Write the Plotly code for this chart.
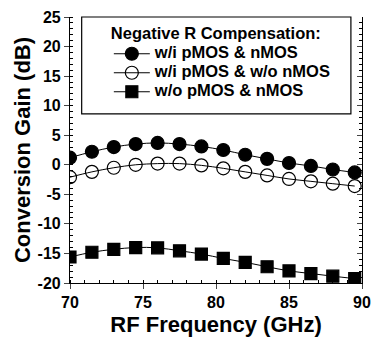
import plotly.graph_objects as go

freq = [70, 71.5, 73, 74.5, 76, 77.5, 79, 80.5, 82, 83.5, 85, 86.5, 88, 89.5]
gain_pn = [1.2, 2.2, 3.0, 3.5, 3.7, 3.5, 3.1, 2.5, 1.7, 1.0, 0.3, -0.2, -0.8, -1.3]
gain_p_only = [-2.1, -1.2, -0.5, 0.0, 0.2, 0.2, -0.1, -0.6, -1.2, -1.8, -2.4, -2.8, -3.2, -3.6]
gain_none = [-15.6, -14.8, -14.3, -14.0, -14.05, -14.55, -15.1, -15.85, -16.5, -17.25, -17.95, -18.4, -18.85, -19.25]

names = ["w/i pMOS &amp; nMOS", "w/i pMOS &amp; w/o nMOS", "w/o pMOS &amp; nMOS"]
legend_title = "Negative R Compensation:"
xticks = [70, 75, 80, 85, 90]
xticklabels = ["70", "75", "80", "85", "90"]
yticks = [-20, -15, -10, -5, 0, 5, 10, 15, 20, 25]
yticklabels = ["-20", "-15", "-10", "-5", "0", "5", "10", "15", "20", "25"]

FONT = "Liberation Sans, Arial, sans-serif"

fig = go.Figure()
series = [
    (gain_pn, "circle", "black", 13),
    (gain_p_only, "circle-open", "black", 13),
    (gain_none, "square", "black", 12),
]
for (ys, sym, col, sz), nm in zip(series, names):
    fig.add_trace(go.Scatter(
        x=freq, y=ys, name="<span style='font-size:16.5px'><b>" + nm + "</b></span>",
        mode="lines+markers",
        line=dict(color="black", width=1, shape="spline"),
        marker=dict(symbol=sym, size=sz, color=col,
                    line=dict(color="black", width=1.2)),
    ))
# empty trace so the right-hand axis is drawn
fig.add_trace(go.Scatter(x=[], y=[], yaxis="y2", showlegend=False, hoverinfo="skip"))

fig.update_layout(
    width=380, height=345,
    margin=dict(l=70, r=9, t=12, b=62),
    paper_bgcolor="white", plot_bgcolor="white",
    font=dict(family=FONT, color="black"),
    showlegend=True,
    legend=dict(
        title=dict(text="<span style='font-size:16.5px'><b>" + legend_title + "</b></span>",
                   font=dict(size=12, family=FONT)),
        font=dict(size=11, family=FONT),
        x=0.133, y=0.975, xanchor="left", yanchor="top",
        bgcolor="rgba(0,0,0,0)", borderwidth=0,
        tracegroupgap=0, itemwidth=36,
    ),
    xaxis=dict(
        range=[70, 90], tickvals=xticks, ticktext=xticklabels,
        ticks="outside", ticklen=5, tickwidth=1.2,
        showline=True, linecolor="black", linewidth=1.2, showgrid=False, zeroline=False,
        tickfont=dict(size=16, family=FONT, weight="bold"),
        minor=dict(dtick=1, ticks="inside", ticklen=3, tickcolor="black", showgrid=False),
        title=dict(text="<b>RF Frequency (GHz)</b>", font=dict(size=22, family=FONT), standoff=6),
    ),
    yaxis=dict(
        range=[-20, 25], tickvals=yticks, ticktext=yticklabels,
        ticks="outside", ticklen=5, tickwidth=1.2,
        showline=True, linecolor="black", linewidth=1.2, showgrid=False, zeroline=False,
        tickfont=dict(size=16, family=FONT, weight="bold"),
        minor=dict(dtick=1, ticks="inside", ticklen=3, tickcolor="black", showgrid=False),
        title=dict(text="<b>Conversion Gain (dB)</b>", font=dict(size=22, family=FONT), standoff=0),
    ),
    yaxis2=dict(
        range=[-20, 25], overlaying="y", side="right", tickvals=yticks,
        ticks="inside", ticklen=5, tickwidth=1.2, showticklabels=False,
        showline=True, linecolor="black", linewidth=1.2, showgrid=False, zeroline=False,
        minor=dict(dtick=1, ticks="inside", ticklen=3, tickcolor="black", showgrid=False),
    ),
    shapes=[dict(type="rect", xref="paper", yref="paper",
                 x0=0.04, x1=0.962, y0=0.636, y1=1.0,
                 line=dict(color="black", width=1.2), fillcolor="rgba(0,0,0,0)")],
)

fig.write_html("out.html")
